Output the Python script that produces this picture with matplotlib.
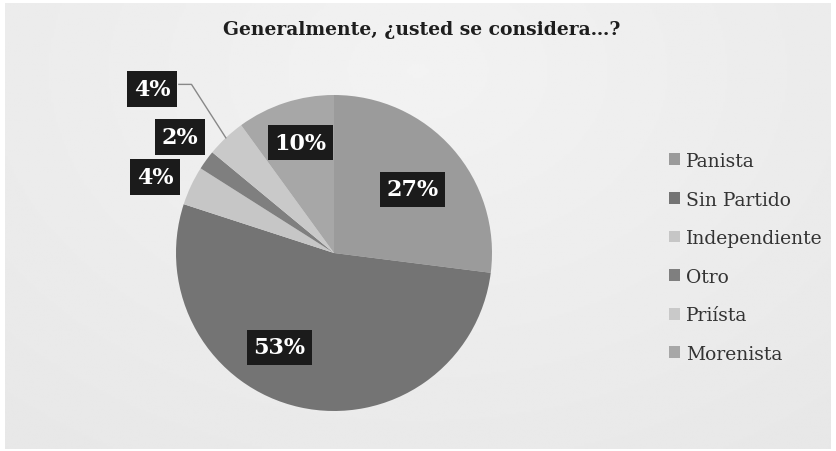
import numpy as np
import matplotlib
matplotlib.use("Agg")
import matplotlib.pyplot as plt

# data
categories = ["Panista", "Sin Partido", "Independiente", "Otro", "Priísta", "Morenista"]
shares = [27, 53, 4, 2, 4, 10]
colors = ["#9b9b9b", "#747474", "#c6c6c6", "#7f7f7f", "#c9c9c9", "#a7a7a7"]
title = "Generalmente, ¿usted se considera…?"

# label placement (radius, angle in degrees) for each slice
label_pos = [(0.64, 39), (0.69, -120), (1.23, 157), (1.22, 143), (1.55, 138), (0.73, 107)]

W, H = 836, 452
fig = plt.figure(figsize=(W / 100, H / 100), dpi=100)
fig.patch.set_facecolor("white")

# light gray gradient background panel
bg = fig.add_axes([5 / W, 2 / H, 826 / W, 446 / H])
yy, xx = np.mgrid[0:1:200j, 0:1:400j]
grad = 0.95 - 0.045 * np.sqrt(((xx - 0.5) * 1.2) ** 2 + ((yy - 0.15) * 0.9) ** 2)
bg.imshow(grad, cmap="gray", vmin=0, vmax=1, aspect="auto", extent=[0, 1, 0, 1])
bg.set_axis_off()

# pie axes: center (334, 254) px, radius 158 px
cx, cy, r = 334, 254, 158
ax = fig.add_axes([(cx - r) / W, (H - cy - r) / H, 2 * r / W, 2 * r / H])
wedges, _ = ax.pie(shares, colors=colors, startangle=90, counterclock=False,
                   radius=1, wedgeprops=dict(linewidth=0))
ax.set_xlim(-1, 1)
ax.set_ylim(-1, 1)
ax.set_aspect("equal")
ax.set_axis_off()

for w, val, (rr, ang) in zip(wedges, shares, label_pos):
    x, y = rr * np.cos(np.radians(ang)), rr * np.sin(np.radians(ang))
    ax.text(x, y, f"{val}%", ha="center", va="center", color="white",
            fontsize=16, fontweight="bold", family="DejaVu Serif",
            bbox=dict(boxstyle="square,pad=0.3", facecolor="#1b1b1b", edgecolor="none"),
            clip_on=False, zorder=5)

# leader line for Priísta slice
w = wedges[4]
mid = np.radians((w.theta1 + w.theta2) / 2)
ex, ey = np.cos(mid), np.sin(mid)
rr, ang = label_pos[4]
lx, ly = rr * np.cos(np.radians(ang)), rr * np.sin(np.radians(ang))
ax.plot([lx + 0.17, lx + 0.25, ex], [ly + 0.03, ly + 0.03, ey], color="#888888",
        linewidth=1, clip_on=False, zorder=4)

fig.text(422 / W, 1 - 30 / H, title, ha="center", va="center", fontsize=13.5,
         fontweight="bold", family="DejaVu Serif", color="#1e1e1e")

handles = [plt.Rectangle((0, 0), 1, 1, facecolor=c, edgecolor="none") for c in colors]
fig.legend(handles, categories, loc="upper left", bbox_to_anchor=(652 / W, 1 - 136 / H),
           frameon=False, prop={"family": "DejaVu Serif", "size": 13.5},
           handlelength=0.6, handleheight=0.6, handletextpad=0.3, labelspacing=1.1,
           labelcolor="#333333")

fig.savefig("out.png", dpi=100, facecolor=fig.get_facecolor())
